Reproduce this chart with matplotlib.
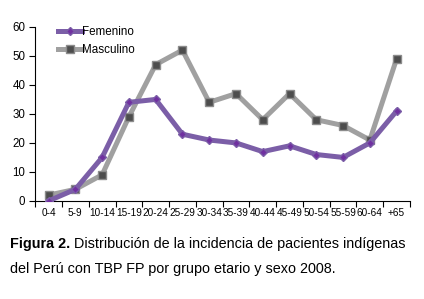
import matplotlib
matplotlib.use("Agg")
import matplotlib.pyplot as plt

plt.rcParams["font.family"] = ["Liberation Sans", "DejaVu Sans"]

grupos = ["0-4", "5-9", "10-14", "15-19", "20-24", "25-29", "30-34", "35-39",
          "40-44", "45-49", "50-54", "55-59", "60-64", "+65"]
femenino = [0, 4, 15, 34, 35, 23, 21, 20, 17, 19, 16, 15, 20, 31]
masculino = [2, 4, 9, 29, 47, 52, 34, 37, 28, 37, 28, 26, 21, 49]

fig = plt.figure(figsize=(4.24, 2.99), dpi=100)
ax = fig.add_axes([0.083, 0.328, 0.884, 0.582])

x = list(range(len(grupos)))
ax.plot(x, femenino, color="#7b5ea7", lw=3.6, marker="D", markersize=4,
        markerfacecolor="#7030a0", markeredgecolor="#7b5ea7", label="Femenino",
        zorder=3)
ax.plot(x, masculino, color="#a0a0a0", lw=3.6, marker="s", markersize=5.5,
        markerfacecolor="#4d4d4d", markeredgecolor="#8c8c8c", label="Masculino",
        zorder=2)

ax.set_xlim(-0.5, len(grupos) - 0.5)
ax.set_ylim(0, 60)
ax.set_yticks(range(0, 61, 10))
ax.set_xticks(x)
ax.set_xticklabels(grupos)
ax.set_xticks([i - 0.5 for i in range(len(grupos) + 1)], minor=True)
ax.tick_params(axis="x", which="major", length=0, labelsize=7.2, pad=5)
ax.tick_params(axis="x", which="minor", length=4, width=0.8)
ax.tick_params(axis="y", length=4, width=0.8, labelsize=8.3, pad=3)
for s in ["top", "right"]:
    ax.spines[s].set_visible(False)
for s in ["left", "bottom"]:
    ax.spines[s].set_linewidth(0.8)

ax.legend(loc="upper left", bbox_to_anchor=(0.04, 1.05), frameon=False,
          fontsize=8.4, handlelength=2.0, handletextpad=0.05, labelspacing=0.45,
          borderpad=0.2)

t1 = fig.text(0.024, 0.172, "Figura 2.", fontsize=10.4, fontweight="bold", va="baseline")
fig.canvas.draw()
bb = t1.get_window_extent()
x2 = fig.transFigure.inverted().transform((bb.x1, 0))[0]
fig.text(x2, 0.172, " Distribución de la incidencia de pacientes indígenas",
         fontsize=10.4, va="baseline")
fig.text(0.024, 0.088, "del Perú con TBP FP por grupo etario y sexo 2008.",
         fontsize=10.4, va="baseline")

fig.savefig("out.png", dpi=100)
